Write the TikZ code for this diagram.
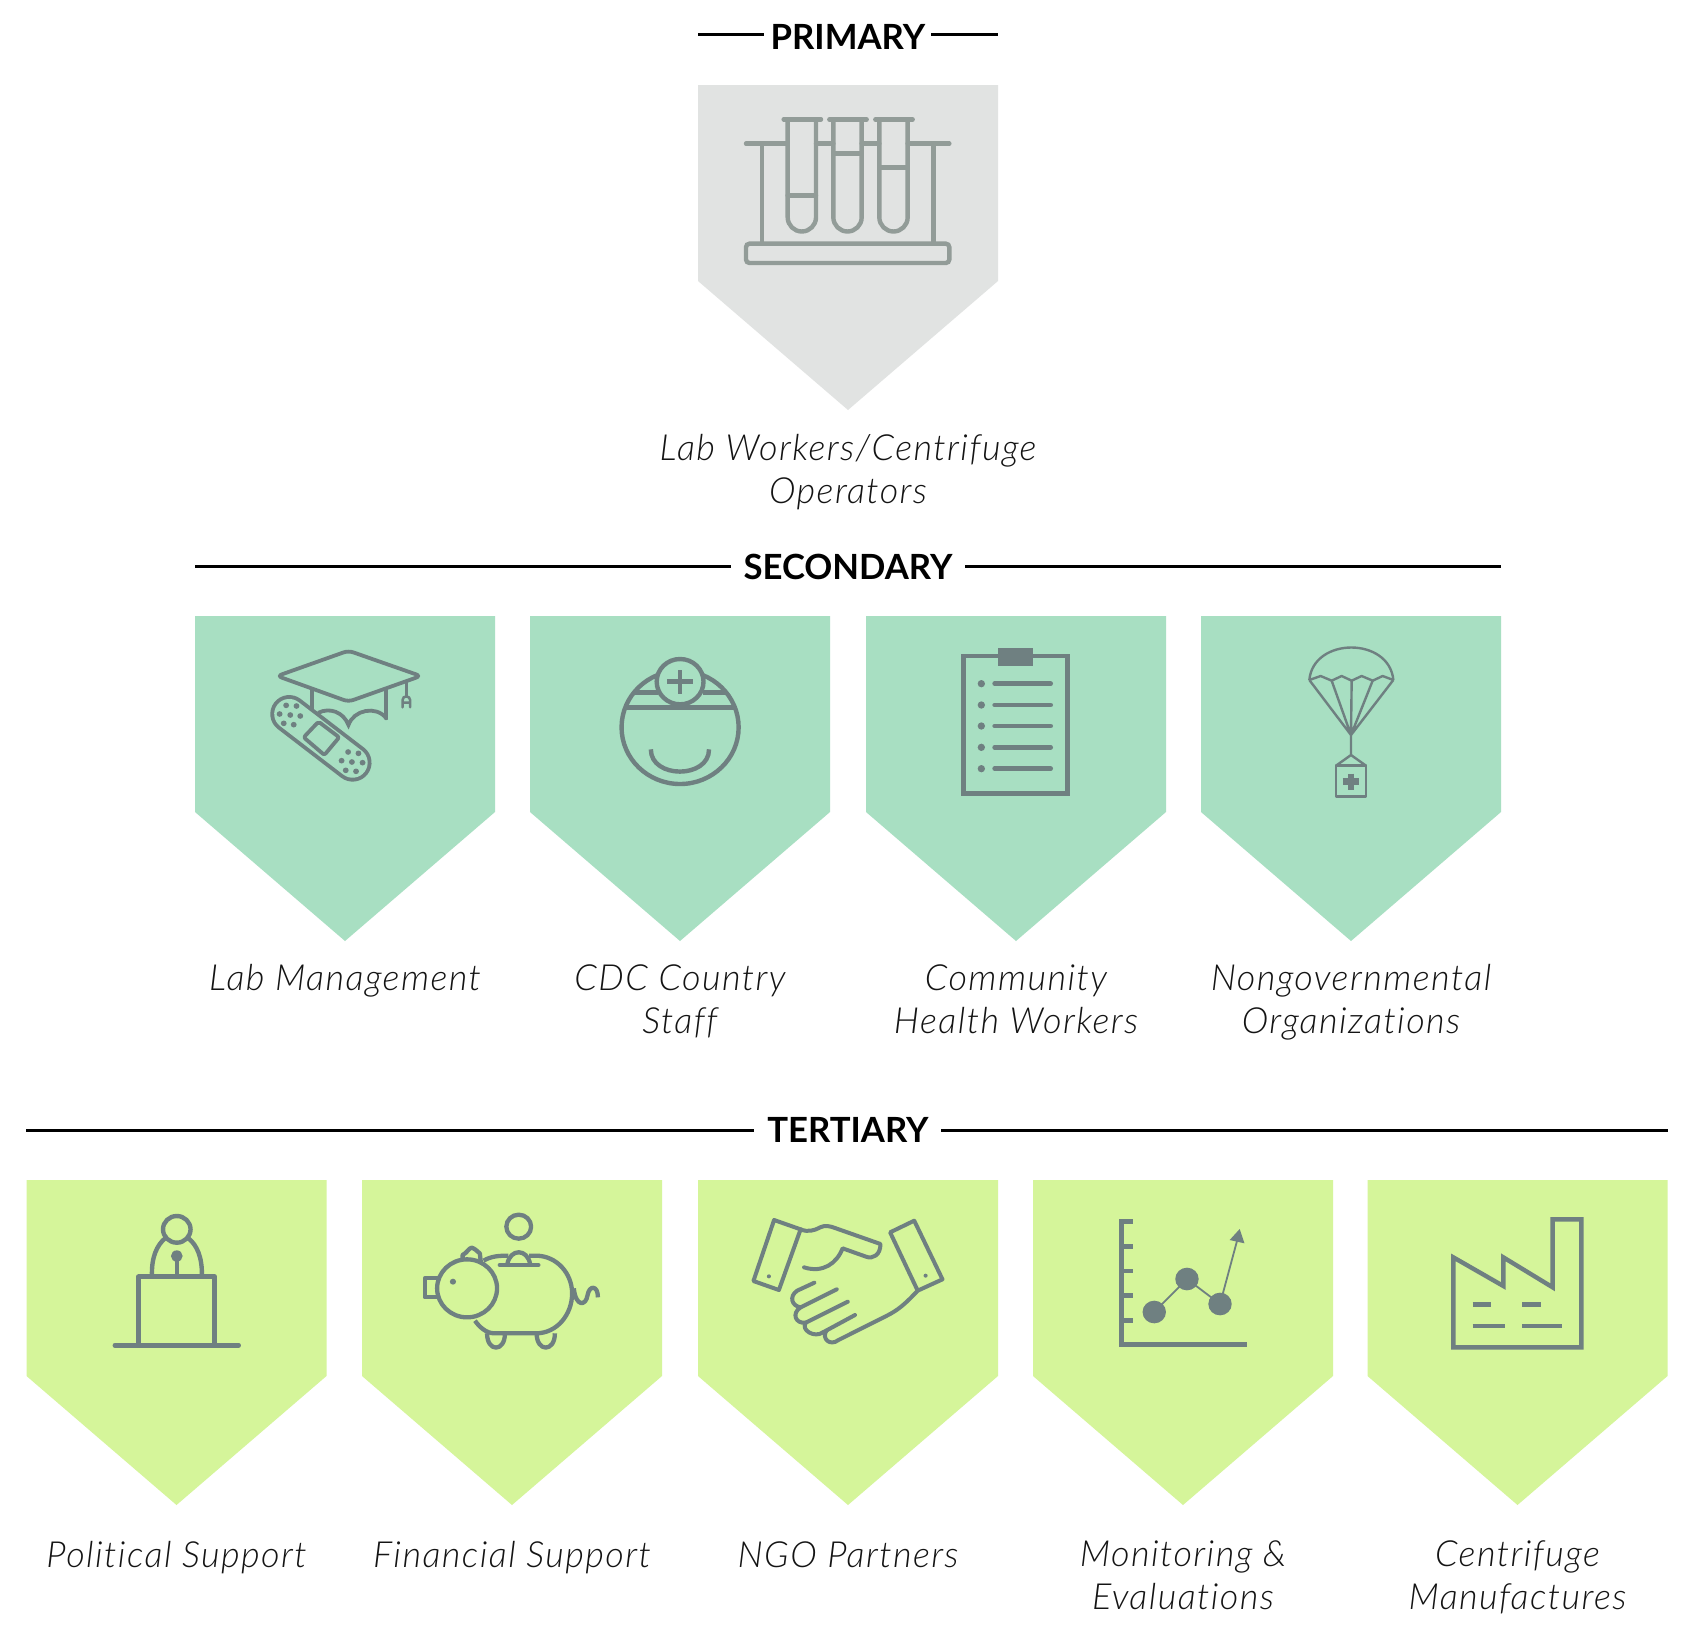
\documentclass[tikz,border=0pt]{standalone}
\usepackage{fontspec}
\setmainfont{Lato}[UprightFont=* Light,ItalicFont=* Light Italic,BoldFont=* Bold,ItalicFeatures={LetterSpace=4,Ligatures=NoCommon}]
\definecolor{pg}{HTML}{E1E3E2}
\definecolor{sg}{HTML}{A8DFC2}
\definecolor{tg}{HTML}{D5F59A}
\definecolor{ipr}{HTML}{929C98}
\definecolor{ico}{HTML}{6F8081}
\tikzset{
  head/.style={font=\bfseries\fontsize{34.7}{40}\selectfont,text=black,anchor=center,inner sep=0pt},
  rule/.style={line width=3pt,black},
  lab/.style={font=\itshape\fontsize{36}{43}\selectfont,align=center,anchor=base,inner sep=0pt,text=black!92},
  ic/.style={draw=ico,line width=4.4pt},
  z3/.style 2 args={x=0.33333pt,y=-0.33333pt,shift={(#1pt,-#2pt)}},
  zb/.style 2 args={x=0.34436pt,y=-0.33333pt,shift={(#1pt,-#2pt)}},
}
\newcommand{\badge}[3]{\fill[#1] (#2-150,#3) -- (#2+150,#3) -- (#2+150,#3+196) -- (#2,#3+325) -- (#2-150,#3+196) -- cycle;}
\begin{document}
\begin{tikzpicture}[x=1pt,y=-1pt]
\useasboundingbox (0,0) rectangle (1697,1633);
\fill[white] (0,0) rectangle (1697,1633);
% badges
\badge{pg}{848}{85}
\foreach \c in {345,680,1016,1351}{\badge{sg}{\c}{616}}
\foreach \c in {176.5,512,848,1183,1517.5}{\badge{tg}{\c}{1180}}
% headers
\node[head] (hp) at (848,37) {PRIMARY};
\node[head] (hs) at (848,567) {SECONDARY};
\node[head] (ht) at (848,1130) {TERTIARY};
\coordinate (p1) at (698,34); \coordinate (p2) at (764,34); \coordinate (p3) at (931,34); \coordinate (p4) at (998,34);
\coordinate (s1) at (195,566); \coordinate (s2) at (731,566); \coordinate (s3) at (965,566); \coordinate (s4) at (1501,566);
\coordinate (t1) at (26,1130); \coordinate (t2) at (754,1130); \coordinate (t3) at (941,1130); \coordinate (t4) at (1668,1130);
\draw[rule] (p1) -- (p2); \draw[rule] (p3) -- (p4);
\draw[rule] (s1) -- (s2); \draw[rule] (s3) -- (s4);
\draw[rule] (t1) -- (t2); \draw[rule] (t3) -- (t4);
% labels (multi-line nodes are placed by their last baseline)
\node[lab] (l0) at (848,503) {Lab Workers/Centrifuge\\Operators};
\node[lab] (l1) at (345,990) {Lab Management};
\node[lab] (l2) at (680,1033) {CDC Country\\Staff};
\node[lab] (l3) at (1016,1033) {Community\\Health Workers};
\node[lab] (l4) at (1351,1033) {Nongovernmental\\Organizations};
\node[lab] (l5) at (176.5,1567) {Political Support};
\node[lab] (l6) at (512,1567) {Financial Support};
\node[lab] (l7) at (848,1567) {NGO Partners};
\node[lab] (l8) at (1183,1609) {Monitoring \&\\Evaluations};
\node[lab] (l9) at (1517.5,1609) {Centrifuge\\Manufactures};
% test tubes
\begin{scope}[z3={680}{0},ic,draw=ipr,line cap=round]
 \draw (198,431) -- (323,431) (408,431) -- (460,431) (545,431) -- (598,431) (683,431) -- (808,431);
 \draw (246,431) -- (246,730) (760,431) -- (760,730);
 \draw[rounded corners=3.5pt] (198,731) rectangle (808,789);
 \foreach \a/\f in {323/586,460/460,598/502}{
  \draw (\a-12,358) -- (\a+100,358);
  \draw (\a,358) -- (\a,652) arc[start angle=180,end angle=0,radius=42.5] -- (\a+85,358);
  \draw (\a,\f) -- (\a+85,\f);
 }
\end{scope}
% cap and bandage
\begin{scope}[zb={240}{620},ic,line width=3.8pt,line cap=round]
 \draw[rounded corners=5pt] (108,168) -- (315,92) -- (525,168) -- (315,245) -- cycle;
 \draw (208,208) -- (208,265) (425,208) -- (425,295);
 \draw (228,278) .. controls (260,262) and (300,275) .. (315,315) .. controls (330,270) and (395,255) .. (425,295);
 \draw[line width=2.5pt] (483,185) -- (483,230);
 \draw[line width=2.5pt] (472,262) -- (472,240) arc[start angle=180,end angle=360,radius=11] -- (494,262) (472,248) -- (494,248);
 \draw[line width=37.9pt] (143,282) -- (327,428);
 \draw[sg,line width=30.1pt] (143,282) -- (327,428);
 \draw[rounded corners=2pt,line join=round] (228,305) -- (288,352) -- (245,405) -- (185,352) -- cycle;
 \foreach \x/\y in {134/256,164/258,115/282,146/285,175/288,127/310,156/314,314/396,344/400,295/422,325/426,356/428,307/451,337/454}
  \fill[ico] (\x,\y) circle[radius=8.5];
\end{scope}
% doctor
\begin{scope}[zb={240}{620},ic]
 \draw (1278,322) circle[radius=170];
 \draw (1120,263) -- (1435,263);
 \draw (1145,217) -- (1215,217) (1345,217) -- (1410,217);
 \draw[fill=sg] (1278,185) circle[radius=68];
 \draw (1241,185) -- (1315,185) (1277,150) -- (1277,222);
 \draw (1193,388) .. controls (1193,477) and (1362,477) .. (1362,388);
\end{scope}
% clipboard
\begin{scope}[z3={930}{620},ic]
 \draw (100,108) rectangle (412,520);
 \fill[ico] (204,83) rectangle (310,137);
 \foreach \y in {191,255,318,382,446}{
  \fill[ico] (154,\y) circle[radius=11];
  \draw[line width=4.7pt,line cap=round] (194,\y) -- (362,\y);
 }
\end{scope}
% parachute
\begin{scope}[z3={930}{620},ic,line width=2.4pt,line join=round]
 \draw (1138,180) .. controls (1150,50) and (1378,50) .. (1390,180);
 \draw (1138,180) -- (1172,168) -- (1205,182) -- (1235,168) -- (1265,182) -- (1295,168) -- (1328,182) -- (1358,168) -- (1390,180);
 \draw (1138,180) -- (1263,345) -- (1205,182) (1265,182) -- (1263,345) -- (1328,182) (1390,180) -- (1263,345) -- (1263,405);
 \draw (1218,437) -- (1263,405) -- (1308,437);
 \draw (1218,437) rectangle (1308,530);
 \draw[line width=6.5pt] (1238,485) -- (1288,485) (1263,461) -- (1263,509);
\end{scope}
% podium
\begin{scope}[zb={90}{1190},ic]
 \draw (252,118) circle[radius=40];
 \draw (180,258) .. controls (178,200) and (195,165) .. (218,145);
 \draw (325,258) .. controls (326,200) and (310,165) .. (286,145);
 \fill[ico] (252,198) circle[radius=17];
 \draw (252,198) -- (252,258);
 \draw[line join=round] (141,466) -- (141,260) -- (362,260) -- (362,466);
 \draw[line cap=round] (72,466) -- (432,466);
\end{scope}
% piggy
\begin{scope}[zb={90}{1190},ic,line width=4.3pt,line join=round]
 \draw (1245,110) circle[radius=36];
 \draw (1095,295) circle[radius=87];
 \draw (1082,212) -- (1082,195) .. controls (1095,188) and (1100,175) .. (1108,173) .. controls (1118,175) and (1125,185) .. (1132,190) -- (1135,217);
 \draw (1013,265) -- (972,265) -- (972,322) -- (1013,322);
 \fill[ico] (1054,275) circle[radius=9];
 \draw (1143,212) .. controls (1165,198) and (1190,197) .. (1215,197);
 \draw (1275,197) -- (1295,197) .. controls (1355,197) and (1400,250) .. (1400,310) .. controls (1400,375) and (1355,430) .. (1295,430) -- (1175,430) .. controls (1150,430) and (1130,410) .. (1118,392);
 \draw[line cap=round] (1190,225) -- (1302,225);
 \draw (1212,222) .. controls (1220,175) and (1270,175) .. (1278,222);
 \draw (1153,430) .. controls (1153,487) and (1205,487) .. (1205,430);
 \draw (1297,430) .. controls (1297,487) and (1350,487) .. (1350,430);
 \draw (1405,295) .. controls (1410,350) and (1440,350) .. (1445,315) .. controls (1450,285) and (1475,285) .. (1475,322);
\end{scope}
% handshake
\begin{scope}[zb={730}{1200},ic,line width=4pt,line join=round,line cap=round]
 \draw (128,60) -- (205,88) -- (142,270) -- (68,243) -- cycle;
 \draw (535,62) -- (617,238) -- (545,272) -- (465,97) -- cycle;
 \fill[ico] (113,229) circle[radius=6] (568,227) circle[radius=6];
 \draw (205,88) .. controls (225,97) and (245,92) .. (262,82) .. controls (275,75) and (290,78) .. (305,84) -- (437,132) .. controls (437,165) and (415,178) .. (395,170) -- (327,145) .. controls (310,190) and (270,220) .. (215,202);
 \draw (545,272) .. controls (510,310) and (490,330) .. (450,350) -- (315,420) .. controls (290,440) and (265,415) .. (280,392);
 \draw (245,248) -- (195,272) .. controls (170,290) and (180,318) .. (205,322);
 \draw (310,268) -- (205,322) .. controls (178,340) and (190,372) .. (220,368);
 \draw (342,305) -- (220,368) .. controls (205,390) and (245,415) .. (270,397);
 \draw (363,345) -- (270,397);
\end{scope}
% chart
\begin{scope}[zb={730}{1200},ic,line width=4.8pt]
 \draw (1136,58) -- (1136,440);
 \foreach \y in {65,139,213,287,361} \draw (1136,\y) -- (1170,\y);
 \draw[line width=5.4pt] (1130,434) -- (1502,434);
 \draw[line width=1.8pt] (1232,336) -- (1327,237) -- (1423,312) -- (1473,120);
 \fill[ico] (1232,336) circle[radius=34] (1327,237) circle[radius=34] (1423,312) circle[radius=34];
 \fill[ico] (1480,87) -- (1451,120) -- (1494,130) -- cycle;
\end{scope}
% factory
\begin{scope}[z3={1430}{1200},ic]
 \draw[miter limit=10] (70,442) -- (70,172) -- (220,258) -- (220,172) -- (368,262) -- (368,58) -- (454,58) -- (454,442) -- cycle;
 \draw[line width=4.4pt] (128,314) -- (184,314) (277,314) -- (333,314) (128,378) -- (226,378) (277,378) -- (396,378);
\end{scope}
\end{tikzpicture}
\end{document}
